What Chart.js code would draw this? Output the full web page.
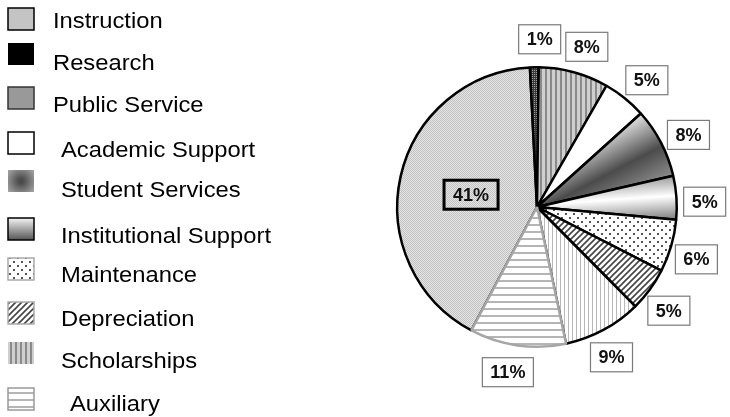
<!DOCTYPE html>
<html>
<head>
<meta charset="utf-8">
<script src="https://cdn.jsdelivr.net/npm/chart.js@4/dist/chart.umd.min.js"></script>
<style>
  body { margin: 0; background: #fff; }
  .wrap { width: 730px; height: 417px; }
</style>
</head>
<body>
<div class="wrap"><canvas id="myChart"></canvas></div>
<script>
// data
const categories = ['Instruction', 'Research', 'Public Service', 'Academic Support', 'Student Services',
  'Institutional Support', 'Maintenance', 'Depreciation', 'Scholarships', 'Auxiliary'];
const shares = [41, 1, 8, 5, 8, 5, 6, 5, 9, 11];
const shareLabels = ['41%', '1%', '8%', '5%', '8%', '5%', '6%', '5%', '9%', '11%'];

const startDeg = 208;

// legend layout (left column)
const legendBoxTop = [8, 43, 87, 132, 170, 218, 258, 302, 342, 388];
const legendTextY = [22, 64, 106, 151, 191, 237, 276, 320, 362, 405];
const legendTextX = [53, 53, 53, 61, 61, 61, 61, 61, 61, 70];

function makePattern(w, h, draw) {
  const c = document.createElement('canvas');
  c.width = w; c.height = h;
  const g = c.getContext('2d');
  draw(g);
  return document.createElement('canvas').getContext('2d').createPattern(c, 'repeat');
}

const patInstruction = makePattern(2, 2, g => {
  g.fillStyle = '#e4e4e4'; g.fillRect(0, 0, 2, 2);
  g.fillStyle = '#c2c2c2'; g.fillRect(0, 0, 1, 1); g.fillRect(1, 1, 1, 1);
});
const patResearch = makePattern(2, 2, g => {
  g.fillStyle = '#3a3a3a'; g.fillRect(0, 0, 2, 2);
  g.fillStyle = '#a0a0a0'; g.fillRect(0, 0, 1, 1);
});
const patPublic = makePattern(5, 1, g => {
  g.fillStyle = '#cfcfcf'; g.fillRect(0, 0, 5, 1);
  g.fillStyle = '#8a8a8a'; g.fillRect(0, 0, 2, 1);
});
const patMaint = makePattern(8, 8, g => {
  g.fillStyle = '#fff'; g.fillRect(0, 0, 8, 8);
  g.fillStyle = '#555'; g.fillRect(1, 1, 2, 2); g.fillRect(5, 5, 2, 2);
});
const patDeprec = makePattern(6, 6, g => {
  g.fillStyle = '#fff'; g.fillRect(0, 0, 6, 6);
  g.strokeStyle = '#444'; g.lineWidth = 1.6;
  g.beginPath();
  g.moveTo(-1, 7); g.lineTo(7, -1);
  g.moveTo(-4, 4); g.lineTo(4, -4);
  g.moveTo(2, 10); g.lineTo(10, 2);
  g.stroke();
});
const patScholar = makePattern(4, 1, g => {
  g.fillStyle = '#fff'; g.fillRect(0, 0, 4, 1);
  g.fillStyle = '#b8b8b8'; g.fillRect(0, 0, 1, 1);
});
const patAux = makePattern(1, 7, g => {
  g.fillStyle = '#fff'; g.fillRect(0, 0, 1, 7);
  g.fillStyle = '#b5b5b5'; g.fillRect(0, 0, 1, 2);
});

const total = shares.reduce((a, b) => a + b, 0);

function sliceAngles(i) {
  let before = 0;
  for (let k = 0; k < i; k++) before += shares[k];
  const a0 = -Math.PI / 2 + startDeg * Math.PI / 180;
  return [a0 + before / total * Math.PI * 2, a0 + (before + shares[i]) / total * Math.PI * 2];
}

function sliceGradient(context, stops) {
  const chart = context.chart;
  const area = chart.chartArea;
  const ctrl = chart.getDatasetMeta(0).controller;
  if (!area || !ctrl.outerRadius) return '#888';
  const cx = (area.left + area.right) / 2, cy = (area.top + area.bottom) / 2;
  const r = ctrl.outerRadius;
  const [s, e] = sliceAngles(context.dataIndex);
  const grad = chart.ctx.createLinearGradient(cx + Math.cos(s) * r, cy + Math.sin(s) * r,
    cx + Math.cos(e) * r, cy + Math.sin(e) * r);
  stops.forEach(st => grad.addColorStop(st[0], st[1]));
  return grad;
}

const fills = [patInstruction, patResearch, patPublic, '#ffffff',
  c => sliceGradient(c, [[0, '#e4e4e4'], [0.55, '#4b4b4b'], [1, '#8e8e8e']]),
  c => sliceGradient(c, [[0, '#9c9c9c'], [0.45, '#ffffff'], [1, '#7a7a7a']]),
  patMaint, patDeprec, patScholar, patAux];

const labelPlugin = {
  id: 'boxLabels',
  afterDatasetsDraw(chart) {
    const ctx = chart.ctx;
    const meta = chart.getDatasetMeta(0);
    ctx.save();
    ctx.font = 'bold 18px "Liberation Sans", Arial, sans-serif';
    ctx.textAlign = 'center';
    ctx.textBaseline = 'middle';
    meta.data.forEach((arc, i) => {
      const mid = (arc.startAngle + arc.endAngle) / 2;
      let x, y, w, h;
      const tw = ctx.measureText(shareLabels[i]).width;
      if (i === 0) {
        const a = mid - 2 * Math.PI / 180;
        x = arc.x + Math.cos(a) * arc.outerRadius * 0.48;
        y = arc.y + Math.sin(a) * arc.outerRadius * 0.48;
        w = tw + 18; h = 29;
        ctx.lineWidth = 3; ctx.strokeStyle = '#000';
      } else {
        const a = mid + 2 * Math.PI / 180;
        x = arc.x + Math.cos(a) * (arc.outerRadius + 28);
        y = arc.y + Math.sin(a) * (arc.outerRadius + 28);
        w = tw + 16; h = 29;
        ctx.fillStyle = '#fff';
        ctx.fillRect(x - w / 2, y - h / 2, w, h);
        ctx.lineWidth = 1.2; ctx.strokeStyle = '#7a7a7a';
      }
      ctx.strokeRect(x - w / 2, y - h / 2, w, h);
      ctx.fillStyle = '#111';
      ctx.fillText(shareLabels[i], x, y + 1);
    });
    ctx.restore();
  }
};

const legendPlugin = {
  id: 'sideLegend',
  afterDraw(chart) {
    const ctx = chart.ctx;
    ctx.save();
    categories.forEach((name, i) => {
      const bx = 8, by = legendBoxTop[i], bw = 26, bh = 22;
      let fill, stroke = '#000', lw = 1.5;
      if (i === 0) fill = '#c4c4c4';
      else if (i === 1) { fill = '#000'; stroke = null; }
      else if (i === 2) { fill = '#999'; stroke = '#333'; }
      else if (i === 3) fill = '#fff';
      else if (i === 4) {
        fill = ctx.createRadialGradient(bx + bw / 2, by + bh / 2, 2, bx + bw / 2, by + bh / 2, 17);
        fill.addColorStop(0, '#4a4a4a'); fill.addColorStop(1, '#a8a8a8');
        stroke = null;
      } else if (i === 5) {
        fill = ctx.createLinearGradient(0, by, 0, by + bh);
        fill.addColorStop(0, '#f4f4f4'); fill.addColorStop(1, '#555');
      } else if (i === 6) { fill = patMaint; stroke = '#aaa'; }
      else if (i === 7) { fill = patDeprec; stroke = '#aaa'; }
      else if (i === 8) { fill = patPublic; stroke = null; }
      else { fill = patAux; stroke = '#999'; }
      ctx.fillStyle = fill;
      ctx.fillRect(bx, by, bw, bh);
      if (stroke) {
        ctx.lineWidth = lw; ctx.strokeStyle = stroke;
        ctx.strokeRect(bx, by, bw, bh);
      }
      // legend text is a little wider than plain Arial in the original
      ctx.save();
      ctx.translate(legendTextX[i], legendTextY[i]);
      ctx.scale(1.08, 1);
      ctx.fillStyle = '#000';
      ctx.font = '22px "Liberation Sans", Arial, sans-serif';
      ctx.textAlign = 'left';
      ctx.textBaseline = 'middle';
      ctx.fillText(name, 0, 0);
      ctx.restore();
    });
    ctx.restore();
  }
};

const ctx = document.getElementById('myChart');

let myChart = new Chart(ctx, {
  type: 'pie',
  data: {
    labels: categories,
    datasets: [{
      data: shares,
      backgroundColor: c => {
        const f = fills[c.dataIndex];
        return typeof f === 'function' ? f(c) : f;
      },
      borderColor: ['#000', '#000', '#000', '#000', '#000', '#000', '#000', '#000', '#000', '#a6a6a6'],
      borderWidth: 2.5
    }]
  },
  options: {
    responsive: true,
    maintainAspectRatio: false,
    animation: false,
    rotation: startDeg,
    layout: { padding: { left: 396, right: 52, top: 66, bottom: 69 } },
    plugins: {
      legend: { display: false },
      tooltip: { enabled: false }
    }
  },
  plugins: [labelPlugin, legendPlugin]
});
</script>
</body>
</html>
